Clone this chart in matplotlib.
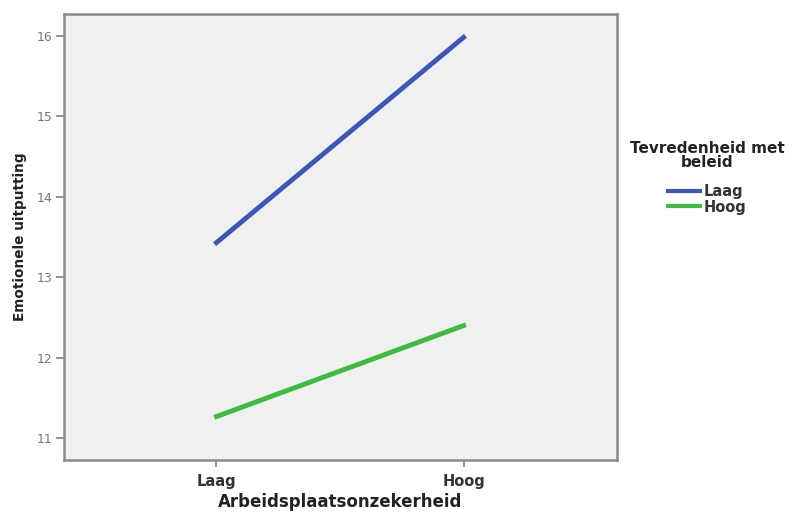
#!/usr/bin/env python3

from matplotlib import pyplot as plt

categories = ['Laag', 'Hoog']
laag = [13.43, 15.98]
hoog = [11.27, 12.40]
series_names = ['Laag', 'Hoog']
yticks = [11, 12, 13, 14, 15, 16]

BLUE = '#3d57b8'
GREEN = '#3cbb3c'
SPINE = '#8a8a8a'

fig = plt.figure(figsize=(8.0, 5.13), dpi=100)
ax = fig.add_axes([0.08, 0.1033, 0.691, 0.8694])
ax.set_facecolor('#f0f0f0')

x = range(len(categories))
ax.plot(x, laag, color=BLUE, linewidth=3.5, label=series_names[0])
ax.plot(x, hoog, color=GREEN, linewidth=3.5, label=series_names[1])

ax.set_xlim(-0.617, 1.62)
ax.set_ylim(10.73, 16.27)
ax.set_xticks(list(x))
ax.set_xticklabels(categories, fontsize=10.5, fontweight='bold', color='#333333')
ax.set_yticks(yticks)
ax.set_yticklabels([str(t) for t in yticks], fontsize=9, color='#777777')

for s in ax.spines.values():
    s.set_color(SPINE)
    s.set_linewidth(1.8)
ax.tick_params(axis='y', length=6, width=1.3, color=SPINE, pad=2)
ax.tick_params(axis='x', length=5, width=1.3, color=SPINE, pad=5)

ax.set_xlabel('Arbeidsplaatsonzekerheid', fontsize=12, fontweight='bold',
              color='#222222', labelpad=3)
ax.set_ylabel('Emotionele uitputting', fontsize=9.8, fontweight='bold',
              color='#222222', labelpad=7)

leg = ax.legend(title='Tevredenheid met\nbeleid', loc='upper center',
                bbox_to_anchor=(0.884, 1 - 128 / 513),
                bbox_transform=fig.transFigure, frameon=False,
                prop={'weight': 'bold', 'size': 10.5},
                title_fontproperties={'weight': 'bold', 'size': 11},
                handlelength=2.2, handletextpad=0.3, labelspacing=0.05)
leg._legend_box.align = 'center'
leg._legend_box.sep = 10
for line in leg.get_lines():
    line.set_linewidth(3)
for t in leg.get_texts():
    t.set_color('#333333')
leg.get_title().set_color('#222222')
leg.get_title().set_multialignment('center')
leg.get_title().set_linespacing(0.9)

plt.savefig('out.png', dpi=100)
